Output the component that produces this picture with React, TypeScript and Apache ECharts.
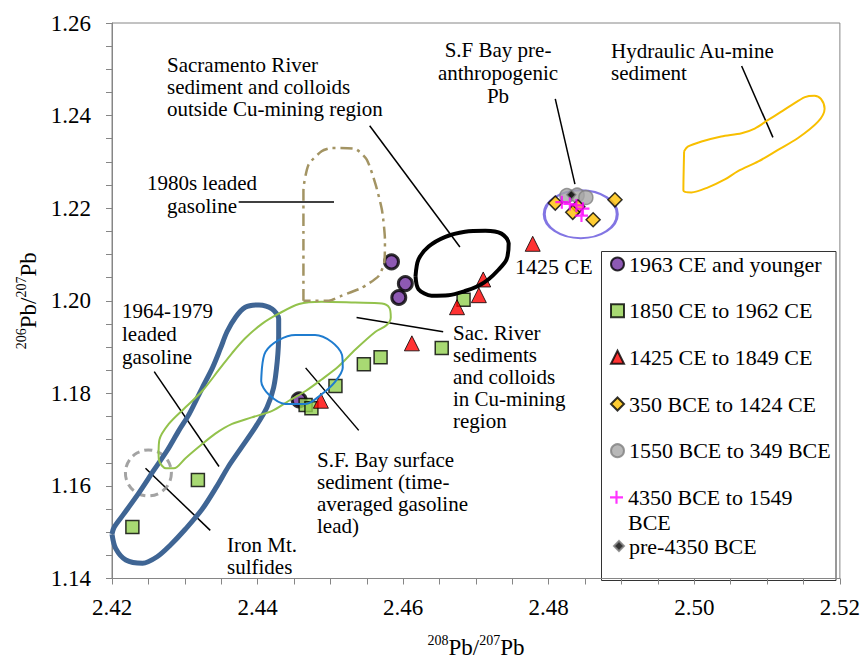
import React, { useEffect, useRef } from "react";
import * as echarts from "echarts";

const SERIF = "Liberation Serif, Times New Roman, serif";

// Axis ranges (208Pb/207Pb on x, 206Pb/207Pb on y)
const xRange = [2.42, 2.52];
const yRange = [1.14, 1.26];
const tickStep = 0.02;

// Sample groups [208Pb/207Pb, 206Pb/207Pb]
const ce1963Younger = [[2.4584, 1.2084], [2.4603, 1.2037], [2.4594, 1.2007], [2.4457, 1.1786]];
const ce1850to1962 = [
  [2.4228, 1.1511], [2.4318, 1.1613], [2.4466, 1.1775], [2.4474, 1.1768], [2.4507, 1.1816],
  [2.4546, 1.1863], [2.4569, 1.1878], [2.4653, 1.1898], [2.4683, 1.2002],
];
const ce1425to1849 = [[2.4487, 1.1784], [2.4612, 1.1908], [2.4674, 1.1986], [2.4704, 1.2012], [2.4710, 1.2046], [2.4778, 1.2123]];
const bce350to1424 = [[2.4809, 1.2211], [2.4840, 1.2203], [2.4833, 1.2191], [2.4861, 1.2175], [2.4891, 1.2218]];
const bce1550to349 = [[2.4825, 1.2227], [2.4839, 1.2228], [2.4851, 1.2223]];
const bce4350to1549 = [[2.4818, 1.2213], [2.4829, 1.2209], [2.4838, 1.2206], [2.4847, 1.2199], [2.4845, 1.2184]];
const pre4350 = [[2.4831, 1.2229]];

// Source-field outlines
const gasoline1964 = [
  [2.4200, 1.1496], [2.4205, 1.1465], [2.4219, 1.1440], [2.4242, 1.1433], [2.4262, 1.1447], [2.4280, 1.1472],
  [2.4301, 1.1507], [2.4324, 1.1550], [2.4344, 1.1599], [2.4360, 1.1642], [2.4377, 1.1681], [2.4397, 1.1727],
  [2.4413, 1.1770], [2.4422, 1.1812], [2.4427, 1.1869], [2.4429, 1.1926], [2.4429, 1.1961], [2.4420, 1.1982],
  [2.4402, 1.1991], [2.4383, 1.1986], [2.4370, 1.1965], [2.4358, 1.1933], [2.4349, 1.1897], [2.4338, 1.1855],
  [2.4324, 1.1812], [2.4306, 1.1755], [2.4292, 1.1720], [2.4276, 1.1677], [2.4258, 1.1635], [2.4237, 1.1585],
  [2.4216, 1.1539], [2.4203, 1.1511], [2.4200, 1.1496],
];
const sacCuMining = [
  [2.4264, 1.1670], [2.4265, 1.1699], [2.4278, 1.1734], [2.4301, 1.1770], [2.4324, 1.1805], [2.4347, 1.1851],
  [2.4365, 1.1887], [2.4383, 1.1919], [2.4406, 1.1950], [2.4429, 1.1972], [2.4457, 1.1993], [2.4488, 1.1998],
  [2.4534, 1.1996], [2.4571, 1.1994], [2.4581, 1.1985], [2.4583, 1.1964], [2.4577, 1.1947], [2.4562, 1.1933],
  [2.4534, 1.1894], [2.4511, 1.1858], [2.4488, 1.1830], [2.4466, 1.1805], [2.4443, 1.1784], [2.4420, 1.1762],
  [2.4392, 1.1748], [2.4365, 1.1734], [2.4342, 1.1713], [2.4319, 1.1684], [2.4301, 1.1660], [2.4285, 1.1638],
  [2.4274, 1.1638], [2.4265, 1.1653], [2.4264, 1.1670],
];
const sfBaySurface = [
  [2.4406, 1.1855], [2.4411, 1.1890], [2.4429, 1.1915], [2.4452, 1.1926], [2.4479, 1.1926], [2.4502, 1.1911],
  [2.4516, 1.1883], [2.4517, 1.1855], [2.4507, 1.1826], [2.4488, 1.1798], [2.4466, 1.1777], [2.4438, 1.1777],
  [2.4415, 1.1798], [2.4405, 1.1826], [2.4406, 1.1855],
];
const sacOutside = [
  [2.4617, 1.2053], [2.4621, 1.2089], [2.4635, 1.2117], [2.4658, 1.2138], [2.4685, 1.2149], [2.4713, 1.2151],
  [2.4735, 1.2145], [2.4745, 1.2124], [2.4742, 1.2089], [2.4731, 1.2067], [2.4717, 1.2046], [2.4703, 1.2032],
  [2.4685, 1.2021], [2.4662, 1.2012], [2.4639, 1.2011], [2.4621, 1.2025], [2.4617, 1.2053],
];
const gasoline1980s = [
  [2.4463, 1.2000], [2.4463, 1.2117], [2.4463, 1.2238], [2.4470, 1.2294], [2.4488, 1.2323], [2.4502, 1.2330],
  [2.4534, 1.2328], [2.4550, 1.2305], [2.4562, 1.2252], [2.4571, 1.2195], [2.4575, 1.2131], [2.4574, 1.2082],
  [2.4566, 1.2053], [2.4543, 1.2028], [2.4516, 1.2011], [2.4498, 1.2000], [2.4479, 1.2000], [2.4463, 1.2000],
];
const hydraulicAu = [
  [2.4986, 1.2323], [2.4985, 1.2238], [2.4996, 1.2234], [2.5019, 1.2245], [2.5042, 1.2262], [2.5060, 1.2280],
  [2.5088, 1.2301], [2.5115, 1.2326], [2.5142, 1.2351], [2.5170, 1.2387], [2.5179, 1.2415], [2.5174, 1.2436],
  [2.5165, 1.2443], [2.5152, 1.2440], [2.5133, 1.2422], [2.5119, 1.2408], [2.5101, 1.2390], [2.5083, 1.2372],
  [2.5065, 1.2362], [2.5037, 1.2355], [2.5010, 1.2344], [2.4991, 1.2333], [2.4986, 1.2323],
];
const preAnthropogenicCentre = [[2.4844, 1.2187]];
const ironMtCentre = [[2.4250, 1.1628]];

// Leader lines from labels to fields
const leaders = [
  [[2.4554, 1.2378], [2.4678, 1.2116]],
  [[2.4809, 1.2436], [2.4836, 1.2252]],
  [[2.5065, 1.2507], [2.5108, 1.2353]],
  [[2.4374, 1.2213], [2.4505, 1.2213]],
  [[2.4258, 1.1847], [2.4347, 1.1642]],
  [[2.4246, 1.1638], [2.4335, 1.1504]],
  [[2.4466, 1.1855], [2.4539, 1.1720]],
  [[2.4536, 1.1964], [2.4655, 1.1933]],
];

const AXIS_GREY = "#868686";
const ELLIPSE = "path://M0,50A50,50,0,1,1,100,50A50,50,0,1,1,0,50Z";
const PLUS = "path://M5,0H7V5H12V7H7V12H5V7H0V5H5Z";

function outline(data: number[][], color: string, width: number, type: any = "solid", smooth: number = 0.3) {
  return {
    type: "line",
    data,
    symbol: "none",
    smooth,
    silent: true,
    lineStyle: { color, width, type },
  };
}

function legendRow(name: string, top: number, size = 13, formatter?: string) {
  return {
    data: [name],
    top,
    left: 628 - 5 - size,
    padding: 0,
    itemWidth: size,
    itemHeight: size,
    selectedMode: false,
    formatter: formatter ? () => formatter : undefined,
    textStyle: { fontFamily: SERIF, fontSize: 22, color: "#000" },
  };
}

function label(text: string, x: number, y: number, align = "left", fontSize = 21, lineHeight = 22) {
  return {
    type: "text",
    x,
    y,
    silent: true,
    style: { text, fill: "#000", fontFamily: SERIF, fontSize, lineHeight, align, verticalAlign: "top" },
  };
}

export default function App() {
  const ref = useRef<HTMLDivElement>(null);

  useEffect(() => {
    if (!ref.current) return;
    const chart = echarts.init(ref.current, null, { renderer: "svg" });
    const axisName = (a: string, b: string) => `{sup|${a}}{b|Pb/}{sup|${b}}{b|Pb}`;
    const nameStyle = {
      fontFamily: SERIF,
      color: "#000",
      rich: {
        b: { fontFamily: SERIF, fontSize: 23, lineHeight: 28, color: "#000" },
        sup: { fontFamily: SERIF, fontSize: 14, lineHeight: 16, verticalAlign: "top", color: "#000" },
      },
    };
    const commonAxis = {
      type: "value",
      interval: tickStep,
      axisLine: { show: true, lineStyle: { color: AXIS_GREY, width: 1 } },
      axisTick: { show: true, length: 6, lineStyle: { color: AXIS_GREY } },
      minorTick: { show: true, splitNumber: 4, length: 6, lineStyle: { color: AXIS_GREY } },
      splitLine: { show: false },
      nameLocation: "middle",
      nameTextStyle: nameStyle,
    };

    chart.setOption({
      animation: false,
      backgroundColor: "#fff",
      textStyle: { fontFamily: SERIF },
      grid: { left: 112, right: 22, top: 23, bottom: 77, show: true, borderColor: AXIS_GREY, borderWidth: 1 },
      xAxis: {
        ...commonAxis,
        min: xRange[0],
        max: xRange[1],
        name: axisName("208", "207"),
        nameGap: 55,
        axisLabel: { formatter: (v: number) => v.toFixed(2), fontFamily: SERIF, fontSize: 23, color: "#000", margin: 17 },
      },
      yAxis: {
        ...commonAxis,
        min: yRange[0],
        max: yRange[1],
        name: axisName("206", "207"),
        nameRotate: 90,
        nameGap: 68,
        axisLabel: { formatter: (v: number) => v.toFixed(2), fontFamily: SERIF, fontSize: 23, color: "#000", margin: 21 },
      },
      legend: [
        legendRow("1963 CE and younger", 253),
        legendRow("1850 CE to 1962 CE", 299.7),
        legendRow("1425 CE to 1849 CE", 346.3),
        legendRow("350 BCE to 1424 CE", 393),
        legendRow("1550 BCE to 349 BCE", 439.7),
        legendRow("4350 BCE to 1549 BCE", 486.3, 13, "4350 BCE to 1549"),
        legendRow("pre-4350 BCE", 535, 10),
      ],
      graphic: [
        {
          type: "rect",
          z: 0,
          silent: true,
          shape: { x: 601.5, y: 251.5, width: 234.5, height: 329 },
          style: { fill: "none", stroke: "#333", lineWidth: 1 },
        },
        label("BCE", 628, 511, "left", 22),
        label("Sacramento River\nsediment and colloids\noutside Cu-mining region", 167, 54),
        label("S.F Bay pre-\nanthropogenic\nPb", 498, 38, "center", 21, 23),
        label("Hydraulic Au-mine\nsediment", 611, 40),
        label("1980s leaded\ngasoline", 202, 171, "center", 21, 23),
        label("1964-1979\nleaded\ngasoline", 122, 299, "left", 21, 23),
        label("Sac. River\nsediments\nand colloids\nin Cu-mining\nregion", 453, 322),
        label("S.F. Bay surface\nsediment (time-\naveraged gasoline\nlead)", 317, 449),
        label("Iron Mt.\nsulfides", 227, 534),
        label("1425 CE", 515, 255, "left", 22),
      ],
      series: [
        outline(gasoline1964, "#3f6594", 5),
        outline(sacCuMining, "#93c24c", 2),
        outline(sfBaySurface, "#1f7ccf", 2),
        outline(sacOutside, "#000", 4),
        outline(gasoline1980s, "#a39463", 2.5, [12, 5, 3, 5], 0.2),
        outline(hydraulicAu, "#f8bf00", 2),
        {
          type: "lines",
          coordinateSystem: "cartesian2d",
          silent: true,
          data: leaders.map((coords) => ({ coords })),
          lineStyle: { color: "#000", width: 1.5, opacity: 1 },
        },
        {
          type: "scatter",
          silent: true,
          data: preAnthropogenicCentre,
          symbol: ELLIPSE,
          symbolSize: [73, 48],
          itemStyle: { color: "rgba(0,0,0,0)", borderColor: "#6353dc", borderWidth: 2.5 },
        },
        {
          type: "scatter",
          silent: true,
          data: ironMtCentre,
          symbol: "circle",
          symbolSize: 46,
          itemStyle: { color: "rgba(0,0,0,0)", borderColor: "#8c8c8c", borderWidth: 3, borderType: [8, 5] },
        },
        {
          name: "1963 CE and younger",
          type: "scatter",
          data: ce1963Younger,
          symbol: "circle",
          symbolSize: 14,
          itemStyle: { color: "#7030a0", borderColor: "#000", borderWidth: 3 },
        },
        {
          name: "1850 CE to 1962 CE",
          type: "scatter",
          data: ce1850to1962,
          symbol: "rect",
          symbolSize: 13,
          itemStyle: { color: "#92d050", borderColor: "#000", borderWidth: 1.5 },
        },
        {
          name: "1425 CE to 1849 CE",
          type: "scatter",
          data: ce1425to1849,
          symbol: "triangle",
          symbolSize: 15,
          itemStyle: { color: "#ff0000", borderColor: "#000", borderWidth: 1 },
        },
        {
          name: "1550 BCE to 349 BCE",
          type: "scatter",
          data: bce1550to349,
          symbol: "circle",
          symbolSize: 14,
          itemStyle: { color: "#a6a6a6", borderColor: "#7f7f7f", borderWidth: 1.5 },
        },
        {
          name: "pre-4350 BCE",
          type: "scatter",
          data: pre4350,
          symbol: "diamond",
          symbolSize: 9,
          itemStyle: { color: "#000", borderColor: "#7f7f7f", borderWidth: 1.5 },
        },
        {
          name: "350 BCE to 1424 CE",
          type: "scatter",
          data: bce350to1424,
          symbol: "diamond",
          symbolSize: 14,
          itemStyle: { color: "#ffc000", borderColor: "#000", borderWidth: 1.5 },
        },
        {
          name: "4350 BCE to 1549 BCE",
          type: "scatter",
          data: bce4350to1549,
          symbol: PLUS,
          symbolSize: 13,
          itemStyle: { color: "#ff00ff", borderWidth: 0 },
        },
      ],
    });
    return () => chart.dispose();
  }, []);

  return (
    <div
      ref={ref}
      style={{ position: "fixed", left: 0, top: 0, width: 863, height: 664, background: "#fff" }}
    />
  );
}
